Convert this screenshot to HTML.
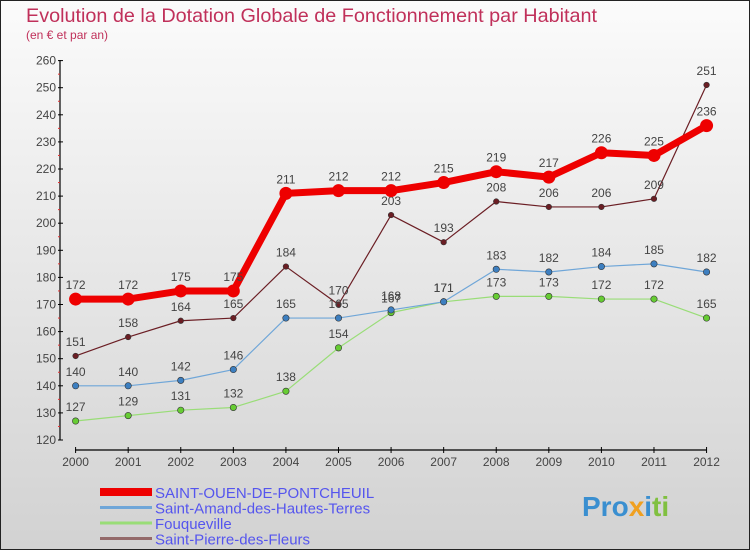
<!DOCTYPE html>
<html><head><meta charset="utf-8"><style>
body{margin:0;width:750px;height:550px;overflow:hidden;font-family:"Liberation Sans",sans-serif}
</style></head><body>
<svg id="c" width="750" height="550" xmlns="http://www.w3.org/2000/svg">
<defs><linearGradient id="bg" x1="0" y1="0" x2="0" y2="1"><stop offset="0" stop-color="#fbfbfb"/><stop offset="1" stop-color="#d2d2d2"/></linearGradient></defs>
<rect x="0.5" y="0.5" width="749" height="549" fill="url(#bg)" stroke="#222"/>
<text x="26" y="22" font-size="19.5" fill="#c0305a" textLength="571" lengthAdjust="spacingAndGlyphs">Evolution de la Dotation Globale de Fonctionnement par Habitant</text>
<text x="26" y="39" font-size="12" fill="#c0305a">(en € et par an)</text>
<g id="axes"></g><g id="series"></g><g id="legend"></g>
<text x="582" y="516" font-size="28" font-weight="bold" fill="#3a8fd0">Pro<tspan fill="#f0a020">x</tspan><tspan fill="#3a8fd0">i</tspan><tspan fill="#80c040">ti</tspan></text>
</svg>
<script>
const years=[2000,2001,2002,2003,2004,2005,2006,2007,2008,2009,2010,2011,2012];
const yTicks=[120,130,140,150,160,170,180,190,200,210,220,230,240,250,260];
const sOuen=[172,172,175,175,211,212,212,215,219,217,226,225,236];
const sAmand=[140,140,142,146,165,165,168,171,183,182,184,185,182];
const sFouq=[127,129,131,132,138,154,167,171,173,173,172,172,165];
const sPierre=[151,158,164,165,184,170,203,193,208,206,206,209,251];
const names=["SAINT-OUEN-DE-PONTCHEUIL","Saint-Amand-des-Hautes-Terres","Fouqueville","Saint-Pierre-des-Fleurs"];
const NS="http://www.w3.org/2000/svg";
const X=i=>75.6+i*52.58;
const Y=v=>440-(v-120)*27.1/10;
function mk(p,t,a,txt){const e=document.createElementNS(NS,t);for(const k in a)e.setAttribute(k,a[k]);if(txt!=null)e.textContent=txt;p.appendChild(e);return e;}
const ax=document.getElementById('axes');
let l=mk(ax,'line',{x1:60,y1:60,x2:60,y2:440,stroke:'#000','stroke-width':1.2});


l=mk(ax,'line',{x1:75,y1:450,x2:707,y2:450,stroke:'#000','stroke-width':1.2});


yTicks.forEach((v,i)=>{
 mk(ax,'line',{x1:58,y1:Y(v),x2:63,y2:Y(v),stroke:'#000'});
 if(i<yTicks.length-1)mk(ax,'line',{x1:58,y1:Y(v+5),x2:60,y2:Y(v+5),stroke:'#e03030'});
 const t=mk(ax,'text',{x:56,y:Y(v)+4,'font-size':12,'text-anchor':'end',fill:'#444'},v);
 
 
});
years.forEach((y,i)=>{
 mk(ax,'line',{x1:X(i),y1:447,x2:X(i),y2:453,stroke:'#000'});
 const t=mk(ax,'text',{x:X(i),y:466,'font-size':12,'text-anchor':'middle',fill:'#444'},y);
 
 
});
const sg=document.getElementById('series');
const defs=[[sPierre,'#6b1e24','#6b1e24',1.2,2.8,'saint-pierre'],[sFouq,'#99dd77','#66cc33',1.2,3.2,'fouqueville'],[sAmand,'#6fa6d8','#3d7fc0',1.2,3.2,'saint-amand'],[sOuen,'#ee0000','#ee0000',7,6.5,'saint-ouen']];
defs.forEach(([d,lc,pc,w,r,n])=>{
 const g=mk(sg,'g',{});
 
 
 const p=mk(g,'polyline',{points:d.map((v,i)=>X(i)+','+Y(v)).join(' '),fill:'none',stroke:lc,'stroke-width':w,'stroke-linejoin':'round'});
 
 
 d.forEach((v,i)=>{
  const c=mk(g,'circle',{cx:X(i),cy:Y(v),r:r,fill:pc,stroke:n=='saint-ouen'?'none':'#333','stroke-width':0.6});
  
  
  const t=mk(g,'text',{x:X(i),y:Y(v)-10,'font-size':12,'text-anchor':'middle',fill:'#444'},v);
  
  
 });
});
const lg=document.getElementById('legend');
const lcs=[['#ee0000',8],['#6fa6d8',3],['#99dd77',3],['#946a6a',3]];
names.forEach((nm,i)=>{
 const y=492+i*15.5;
 const ln=mk(lg,'line',{x1:100,y1:y,x2:152,y2:y,stroke:lcs[i][0],'stroke-width':lcs[i][1]});
 
 
 const t=mk(lg,'text',{x:155,y:y+6,'font-size':15,fill:'#5555ee'},nm);
 
 
});
</script>
</body></html>
